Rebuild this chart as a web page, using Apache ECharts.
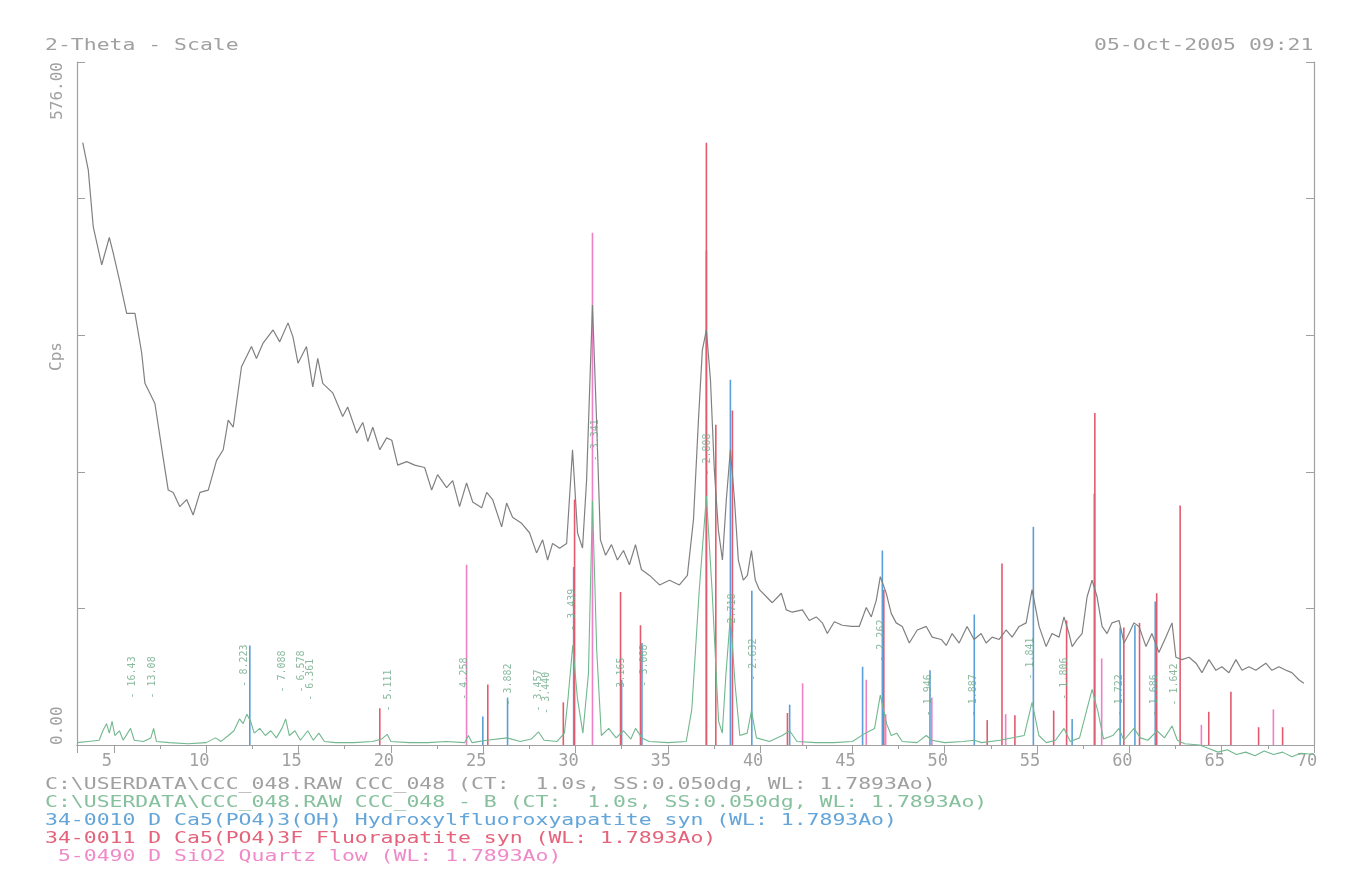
<!DOCTYPE html>
<html>
<head>
<meta charset="utf-8">
<title>2-Theta - Scale</title>
<script src="https://cdn.jsdelivr.net/npm/echarts@6/dist/echarts.min.js"></script>
<style>
  html, body { margin: 0; padding: 0; background: #fff; }
  #chart { width: 1370px; height: 886px; }
</style>
</head>
<body>
<div id="chart"></div>
<script>
// raw scan, [2theta, cps]
const rawCurve = [
  [3.31, 508], [3.61, 485], [3.88, 437], [4.34, 405], [4.75, 428], [4.96, 415],
  [5.33, 390], [5.69, 364], [6.14, 364], [6.50, 331], [6.68, 305], [7.22, 288],
  [7.67, 242], [7.94, 215], [8.21, 213], [8.57, 201], [8.94, 207], [9.29, 194],
  [9.66, 213], [10.11, 215], [10.56, 240], [10.92, 249], [11.19, 274], [11.46, 268],
  [11.91, 319], [12.45, 336], [12.72, 326], [13.08, 339], [13.62, 350], [13.98, 340],
  [14.43, 356], [14.70, 344], [14.97, 322], [15.43, 336], [15.77, 302], [16.04, 326],
  [16.31, 305], [16.85, 297], [17.39, 277], [17.66, 285], [18.15, 263], [18.48, 272],
  [18.75, 256], [19.02, 268], [19.40, 249], [19.77, 259], [20.05, 257], [20.37, 236],
  [20.86, 239], [21.29, 236], [21.83, 234], [22.21, 215], [22.53, 228], [23.02, 217],
  [23.35, 223], [23.72, 201], [24.10, 221], [24.43, 205], [24.92, 200], [25.19, 213],
  [25.51, 207], [26.00, 184], [26.27, 204], [26.59, 192], [27.08, 187], [27.51, 179],
  [27.89, 162], [28.22, 173], [28.49, 156], [28.76, 170], [29.14, 166], [29.52, 170],
  [29.84, 249], [30.11, 179], [30.38, 166], [30.60, 223], [30.92, 371], [31.14, 274],
  [31.35, 173], [31.63, 160], [31.95, 169], [32.27, 156], [32.60, 164], [32.92, 152],
  [33.25, 169], [33.57, 148], [34.01, 143], [34.55, 135], [35.09, 139], [35.63, 135],
  [36.06, 143], [36.39, 190], [36.66, 274], [36.87, 333], [37.09, 350], [37.31, 308],
  [37.52, 232], [37.74, 181], [37.96, 156], [38.17, 207], [38.39, 249], [38.61, 207],
  [38.82, 156], [39.09, 139], [39.31, 143], [39.53, 164], [39.74, 139], [39.96, 131],
  [40.34, 125], [40.66, 120], [41.15, 128], [41.42, 114], [41.74, 112], [42.29, 114],
  [42.66, 105], [43.04, 108], [43.37, 103], [43.64, 94], [44.02, 104], [44.45, 101],
  [44.94, 100], [45.37, 100], [45.75, 116], [46.02, 108], [46.29, 122], [46.51, 142],
  [46.83, 128], [47.10, 111], [47.37, 103], [47.70, 100], [48.08, 86], [48.51, 97],
  [49.00, 100], [49.32, 91], [49.81, 89], [50.08, 84], [50.40, 94], [50.78, 86],
  [51.21, 100], [51.59, 89], [51.97, 94], [52.24, 86], [52.57, 91], [52.95, 89],
  [53.32, 97], [53.65, 91], [54.03, 100], [54.41, 103], [54.73, 131], [55.11, 100],
  [55.49, 83], [55.81, 94], [56.19, 91], [56.46, 108], [56.73, 94], [56.90, 83],
  [57.17, 89], [57.44, 94], [57.71, 125], [57.98, 139], [58.25, 125], [58.52, 100],
  [58.79, 94], [59.06, 103], [59.44, 105], [59.71, 86], [59.98, 94], [60.25, 103],
  [60.52, 100], [60.90, 83], [61.22, 94], [61.60, 78], [61.98, 91], [62.31, 103],
  [62.52, 74], [62.85, 72], [63.23, 74], [63.61, 69], [63.93, 61], [64.31, 72],
  [64.69, 63], [65.01, 66], [65.39, 61], [65.77, 72], [66.10, 63], [66.47, 66],
  [66.85, 63], [67.39, 69], [67.72, 63], [68.10, 66], [68.48, 63], [68.80, 61],
  [69.18, 55], [69.45, 52]
];

// background subtracted scan
const netCurve = [
  [3.0, 2], [3.6, 3], [4.2, 4], [4.4, 12], [4.6, 18], [4.75, 10], [4.9, 20], [5.05, 8],
  [5.3, 12], [5.5, 4], [5.9, 14], [6.1, 4], [6.6, 3], [7.0, 6], [7.15, 14], [7.3, 3],
  [8.0, 2], [9.0, 1], [10.0, 2], [10.5, 6], [10.8, 3], [11.2, 8], [11.5, 12], [11.8, 22],
  [12.0, 18], [12.2, 26], [12.4, 20], [12.6, 10], [12.9, 14], [13.2, 8], [13.5, 12],
  [13.8, 6], [14.1, 14], [14.3, 22], [14.5, 8], [14.8, 12], [15.1, 4], [15.5, 12],
  [15.8, 4], [16.1, 10], [16.4, 3], [17.0, 2], [18.0, 2], [19.0, 3], [19.5, 5], [19.8, 9],
  [20.0, 3], [21.0, 2], [22.0, 2], [23.0, 3], [24.0, 2], [24.2, 8], [24.4, 2], [25.2, 4],
  [26.3, 6], [27.0, 3], [27.6, 5], [28.0, 11], [28.3, 4], [29.0, 3], [29.4, 10],
  [29.6, 40], [29.85, 84], [30.1, 40], [30.4, 10], [30.7, 60], [30.92, 206], [31.15, 80],
  [31.4, 8], [31.8, 14], [32.2, 6], [32.6, 12], [33.0, 5], [33.25, 14], [33.6, 6],
  [34.0, 3], [35.0, 2], [36.0, 3], [36.3, 30], [36.7, 130], [37.09, 210], [37.4, 130],
  [37.75, 20], [37.95, 10], [38.15, 60], [38.39, 109], [38.65, 50], [38.9, 8], [39.3, 10],
  [39.53, 29], [39.8, 6], [40.5, 3], [41.2, 8], [41.6, 12], [42.0, 3], [43.0, 2],
  [44.0, 2], [45.0, 3], [45.7, 10], [46.2, 14], [46.51, 42], [46.85, 18], [47.1, 8],
  [47.4, 10], [47.7, 3], [48.5, 2], [49.0, 8], [49.3, 4], [50.0, 2], [51.0, 3], [51.6, 4],
  [52.0, 2], [53.0, 4], [54.3, 8], [54.73, 36], [55.1, 8], [55.5, 2], [56.0, 4],
  [56.46, 14], [56.8, 3], [57.3, 6], [57.7, 30], [57.98, 47], [58.3, 28], [58.6, 5],
  [59.1, 8], [59.44, 14], [59.7, 4], [60.25, 14], [60.6, 6], [61.0, 4], [61.5, 12],
  [61.9, 6], [62.31, 16], [62.6, 4], [63.0, 1], [63.8, 0], [64.3, -3], [64.8, -6],
  [65.3, -4], [65.8, -8], [66.3, -6], [66.8, -9], [67.3, -5], [67.8, -8], [68.3, -6],
  [68.8, -10], [69.3, -7], [70.0, -8]
];

// reference patterns (stick lines)
const hapSticks = [
  [12.36, 84], [24.98, 24], [26.32, 40], [29.9, 150], [32.5, 55], [33.6, 86],
  [37.09, 417], [38.39, 308], [39.55, 130], [41.6, 34], [45.55, 66], [46.62, 164],
  [49.2, 63], [51.6, 110], [54.8, 184], [56.9, 22], [58.1, 212], [59.5, 99],
  [60.3, 101], [61.4, 121]
];
const fapSticks = [
  [19.4, 31], [25.25, 51], [29.34, 36], [29.95, 207], [32.44, 129], [33.52, 101],
  [37.09, 508], [37.6, 270], [38.5, 282], [41.48, 27], [46.7, 131], [52.3, 21],
  [53.1, 153], [53.8, 25], [55.9, 29], [56.6, 105], [58.13, 280], [59.7, 99],
  [60.55, 103], [61.48, 128], [62.75, 202], [64.3, 28], [65.5, 45], [67.0, 15], [68.3, 15]
];
const quartzSticks = [
  [24.1, 152], [30.92, 432], [42.3, 52], [45.75, 55], [46.8, 26], [49.3, 40],
  [53.3, 26], [58.5, 73], [63.9, 17], [67.8, 30]
];

// d-spacing peak labels
const dLabelPos = [
  [5.98, 57], [7.11, 57], [12.09, 67], [14.15, 62], [15.18, 62], [15.66, 55], [19.88, 46],
  [24.0, 56], [26.38, 51], [28.0, 46], [28.43, 44], [29.84, 114], [31.08, 257],
  [32.49, 56], [33.74, 67], [37.15, 245], [38.5, 110], [39.63, 72], [46.56, 88],
  [49.1, 42], [51.54, 42], [54.62, 73], [56.46, 56], [59.44, 42], [61.33, 42], [62.42, 51]
];
const dLabelText = [
  "- 16.43", "- 13.08", "- 8.223", "- 7.088", "- 6.578", "- 6.361", "- 5.111",
  "- 4.258", "- 3.882", "- 3.457", "- 3.440", "- 3.439", "- 3.341",
  "- 3.165", "- 3.068", "- 2.808", "- 2.718", "- 2.632", "- 2.262",
  "- 1.946", "- 1.887", "- 1.841", "- 1.806", "- 1.722", "- 1.686", "- 1.642"
];

const headerLeft = "2-Theta - Scale";
const headerRight = "05-Oct-2005 09:21";
const legendLines = [
  "C:\\USERDATA\\CCC_048.RAW CCC_048 (CT:  1.0s, SS:0.050dg, WL: 1.7893Ao)",
  "C:\\USERDATA\\CCC_048.RAW CCC_048 - B (CT:  1.0s, SS:0.050dg, WL: 1.7893Ao)",
  "34-0010 D Ca5(PO4)3(OH) Hydroxylfluoroxyapatite syn (WL: 1.7893Ao)",
  "34-0011 D Ca5(PO4)3F Fluorapatite syn (WL: 1.7893Ao)",
  " 5-0490 D SiO2 Quartz low (WL: 1.7893Ao)"
];
const legendColors = ["#a0a0a0", "#86c09d", "#63a5da", "#e5637a", "#ef8ac9"];

const MONO = "'DejaVu Sans Mono', 'Liberation Mono', monospace";
const AXIS_GREY = "#a0a0a0";

const chart = echarts.init(document.getElementById("chart"));

const textLine = (str, x, y, color) => ({
  type: "text",
  x: x,
  y: y,
  scaleX: 1.34,
  style: { text: str, font: "16px " + MONO, fill: color }
});

const stickSeries = (name, data, color) => ({
  name: name,
  type: "bar",
  data: data,
  barWidth: 1.6,
  barGap: "-100%",
  itemStyle: { color: color },
  silent: true,
  z: 3
});

chart.setOption({
  backgroundColor: "#ffffff",
  animation: false,
  grid: { left: 77, right: 56, top: 62, bottom: 141 },
  xAxis: [
    {
      type: "value",
      min: 3,
      max: 70,
      minInterval: 5,
      maxInterval: 5,
      axisLine: { onZero: false, lineStyle: { color: AXIS_GREY, width: 1.2 } },
      axisTick: { length: 8, lineStyle: { color: AXIS_GREY } },
      minorTick: { show: true, splitNumber: 2, length: 4, lineStyle: { color: AXIS_GREY } },
      splitLine: { show: false },
      axisLabel: {
        color: AXIS_GREY,
        fontFamily: MONO,
        fontSize: 17,
        margin: 8,
        padding: [0, 14, 0, 0],
        showMinLabel: false,
        formatter: (v) => (v % 5 === 0 ? String(v) : "")
      }
    },
    {
      type: "value",
      position: "top",
      min: 3,
      max: 70,
      minInterval: 5,
      maxInterval: 5,
      axisLine: { lineStyle: { color: AXIS_GREY, width: 1.2 } },
      axisTick: { inside: true, length: 8, lineStyle: { color: AXIS_GREY } },
      axisLabel: { show: false },
      splitLine: { show: false }
    }
  ],
  yAxis: [
    {
      type: "value",
      min: 0,
      max: 576,
      interval: 115.2,
      name: "Cps",
      nameLocation: "middle",
      nameRotate: 90,
      nameGap: 12,
      nameMoveOverlap: false,
      nameTextStyle: { color: AXIS_GREY, fontFamily: MONO, fontSize: 16, padding: [0, 0, 0, 94] },
      axisLine: { lineStyle: { color: AXIS_GREY, width: 1.2 } },
      axisTick: { inside: true, length: 8, lineStyle: { color: AXIS_GREY } },
      splitLine: { show: false },
      axisLabel: {
        color: AXIS_GREY,
        fontFamily: MONO,
        fontSize: 16,
        rotate: 90,
        margin: 11,
        alignMinLabel: "left",
        alignMaxLabel: "right",
        formatter: (v) => (v === 0 || v === 576 ? v.toFixed(2) : "")
      }
    },
    {
      type: "value",
      position: "right",
      min: 0,
      max: 576,
      interval: 115.2,
      axisLine: { show: true, lineStyle: { color: AXIS_GREY, width: 1.2 } },
      axisTick: { show: true, inside: true, length: 8, lineStyle: { color: AXIS_GREY } },
      axisLabel: { show: false },
      splitLine: { show: false }
    }
  ],
  series: [
    stickSeries("34-0010", hapSticks, "#5a9fd8"),
    stickSeries("34-0011", fapSticks, "#e35a6e"),
    stickSeries("5-0490", quartzSticks, "#ee80c6"),
    {
      name: "CCC_048 - B",
      type: "line",
      data: netCurve,
      showSymbol: false,
      clip: false,
      lineStyle: { color: "#72b88f", width: 1.1 },
      z: 4
    },
    {
      name: "CCC_048",
      type: "line",
      data: rawCurve,
      showSymbol: false,
      lineStyle: { color: "#808080", width: 1.2 },
      z: 5
    },
    {
      name: "d",
      type: "scatter",
      symbolSize: 0,
      data: dLabelPos.map((p, i) => ({ value: p, name: dLabelText[i] })),
      label: {
        show: true,
        position: "inside",
        rotate: 90,
        formatter: (p) => p.name,
        color: "#6aa886",
        fontFamily: MONO,
        fontSize: 10
      },
      silent: true,
      z: 6
    }
  ],
  graphic: [
    textLine(headerLeft, 45, 38, AXIS_GREY),
    textLine(headerRight, 1094, 38, AXIS_GREY),
    ...legendLines.map((s, i) => textLine(s, 45, 777 + i * 18, legendColors[i]))
  ]
});
</script>
</body>
</html>
